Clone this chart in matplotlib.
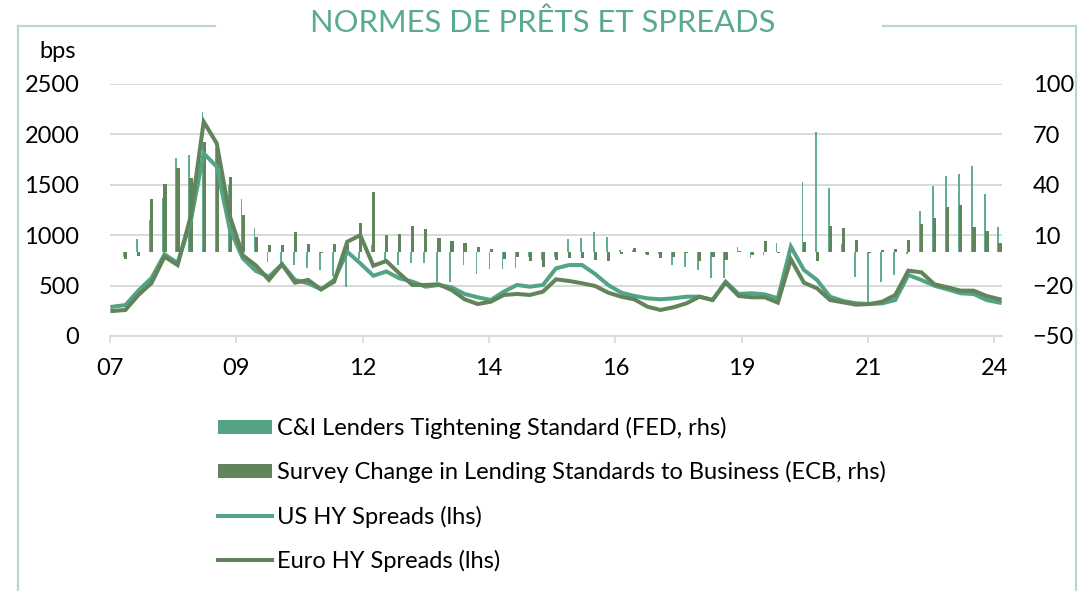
import numpy as np
import matplotlib
matplotlib.use("Agg")
import matplotlib.pyplot as plt
from matplotlib.lines import Line2D
from matplotlib.patches import Patch

plt.rcParams['font.family'] = ['Lato', 'DejaVu Sans']

# quarterly data, 2007Q1 .. 2024Q1
x_labels = ['07', '09', '12', '14', '16', '19', '21', '24']

# C&I lenders tightening standards (FED, rhs)
fed_tightening = [
    0, -3, 8, 19, 32, 56, 58, 83.5, 62, 40,
    31.5, 14.4, -5.8, -6.8, -8, -9.7, -10.7, -14, -21, -4,
    4, -6, -8, -6.7, -6.7, -17.7, -17.7, -7.7, -13.1, -10.3,
    -10.3, -9.7, -3, -5, -3, 7.6, 8.5, 12, 8.7, 1,
    1, -1, -1, -7.7, -9.1, -10.7, -15.3, -15.3, 3.2, -3.8,
    -2, 5.5, -1.5, 41.8, 71.2, 37.9, 5, -14.7, -29.6, -17.7,
    -13.7, -1, 24.4, 39.3, 45.2, 46.4, 51.2, 34.3, 15.1,
]

# ECB survey change in lending standards to business (rhs)
ecb_standards = [
    0, -4, -2.4, 31.6, 40.5, 50, 43.9, 65.6, 64, 44.6,
    22, 9.1, 4.2, 4.2, 11.7, 4.8, -0.5, 4.8, 5, 17,
    35.6, 10.3, 10.5, 15.5, 13.7, 8.2, 6.7, 5.2, 3.2, 1.5,
    -4.2, -2.8, -5.2, -9.1, -4.8, -3.8, -3.5, -4.8, -5.2, -1,
    2.6, -2, -3.5, -3, -0.5, -5.2, -3.2, -4.8, 0.5, -1.5,
    6.7, -0.5, 0.5, 6.1, -5.2, 15.5, 14.1, 7.1, -0.5, 1,
    2, 7.1, 16.5, 20.4, 26.6, 28, 15.1, 12.5, 5.2,
]

# US HY spreads (bps, lhs)
us_hy = [
    290, 307, 450, 575, 810, 724, 1134, 1812, 1680, 1060,
    770, 645, 588, 711, 556, 523, 463, 556, 836, 721,
    598, 640, 572, 539, 489, 506, 483, 417, 384, 357,
    440, 506, 489, 506, 671, 704, 704, 615, 506, 430,
    397, 374, 364, 374, 390, 390, 357, 539, 417, 424,
    413, 374, 886, 655, 556, 390, 347, 324, 317, 324,
    357, 605, 556, 499, 463, 424, 417, 357, 331,
]

# Euro HY spreads (bps, lhs)
euro_hy = [
    248, 258, 407, 525, 787, 704, 1184, 2126, 1911, 1190,
    800, 700, 556, 711, 529, 556, 463, 539, 935, 1000,
    697, 744, 620, 506, 506, 513, 456, 364, 317, 340,
    407, 417, 407, 440, 562, 546, 523, 496, 430, 390,
    364, 291, 258, 285, 324, 390, 357, 529, 397, 384,
    384, 331, 761, 529, 473, 357, 334, 311, 317, 340,
    407, 648, 632, 513, 483, 450, 450, 397, 364,
]

teal = '#52a485'
dark = '#61845b'
grid_col = '#d9d9d9'
frame_col = '#b9d9c0'

W, H = 1085, 591
fig = plt.figure(figsize=(W / 100, H / 100), dpi=100)
ax = fig.add_axes([110 / W, 1 - 336 / H, 892 / W, 252 / H])
ax2 = ax.twinx()

x = np.arange(len(us_hy))

# bars on the right axis, kept behind the lines
ax2.bar(x - 0.1, fed_tightening, width=0.13, color=teal, alpha=0.9, zorder=2)
ax2.bar(x + 0.03, ecb_standards, width=0.24, color=dark, zorder=3)
ax2.set_ylim(-50, 100)
ax2.set_yticks([-50, -20, 10, 40, 70, 100])
ax2.yaxis.grid(True, color=grid_col, lw=1.4, zorder=0)
ax2.set_axisbelow(True)

ax.plot(x, us_hy, color=teal, lw=2.9, solid_joinstyle='miter')
ax.plot(x, euro_hy, color=dark, lw=2.9, solid_joinstyle='miter')
ax.set_ylim(0, 2500)
ax.set_yticks(range(0, 2501, 500))
ax.set_zorder(ax2.get_zorder() + 1)
ax.patch.set_visible(False)

ax.set_xlim(-0.18, 68.18)
ax.set_xticks(np.linspace(-0.18, 67.6, len(x_labels)))
ax.set_xticklabels(x_labels)

for a in (ax, ax2):
    for s in a.spines.values():
        s.set_visible(False)
ax.spines['bottom'].set_visible(True)
ax.spines['bottom'].set_color(grid_col)
ax.spines['bottom'].set_linewidth(1.4)

ax.tick_params(axis='x', direction='out', length=5, width=1.2, color=grid_col,
               labelsize=17, pad=11)
ax.tick_params(axis='y', length=0, labelsize=17, pad=22)
ax2.tick_params(axis='y', length=0, labelsize=17, pad=22)

fig.text(58 / W, 1 - 51 / H, 'bps', fontsize=17, ha='center', va='center')

fig.text(543 / W, 1 - 23 / H, 'NORMES DE PRÊTS ET SPREADS', fontsize=22.2,
         color='#5aaa8c', ha='center', va='center')

# frame around the chart, open where the title sits
tf = fig.transFigure
fig.add_artist(Line2D([18 / W, 18 / W], [0, 1 - 26 / H], transform=tf, color=frame_col, lw=1.6))
fig.add_artist(Line2D([18 / W, 215 / W], [1 - 26 / H, 1 - 26 / H], transform=tf, color=frame_col, lw=1.6))
fig.add_artist(Line2D([883 / W, 1076 / W], [1 - 26 / H, 1 - 26 / H], transform=tf, color=frame_col, lw=1.6))
fig.add_artist(Line2D([1076 / W, 1076 / W], [0, 1 - 26 / H], transform=tf, color=frame_col, lw=1.6))

handles = [
    Patch(facecolor=teal, edgecolor='none'),
    Patch(facecolor=dark, edgecolor='none'),
    Line2D([], [], color=teal, lw=2.9),
    Line2D([], [], color=dark, lw=2.9),
]
labels = [
    'C&I Lenders Tightening Standard (FED, rhs)',
    'Survey Change in Lending Standards to Business (ECB, rhs)',
    'US HY Spreads (lhs)',
    'Euro HY Spreads (lhs)',
]
fig.legend(handles, labels, loc='upper left', bbox_to_anchor=(218 / W, 1 - 417 / H),
           frameon=False, fontsize=17, borderpad=0, borderaxespad=0,
           handlelength=2.3, handleheight=0.52, handletextpad=0.2, labelspacing=0.94)

fig.savefig('out.png', dpi=100)
